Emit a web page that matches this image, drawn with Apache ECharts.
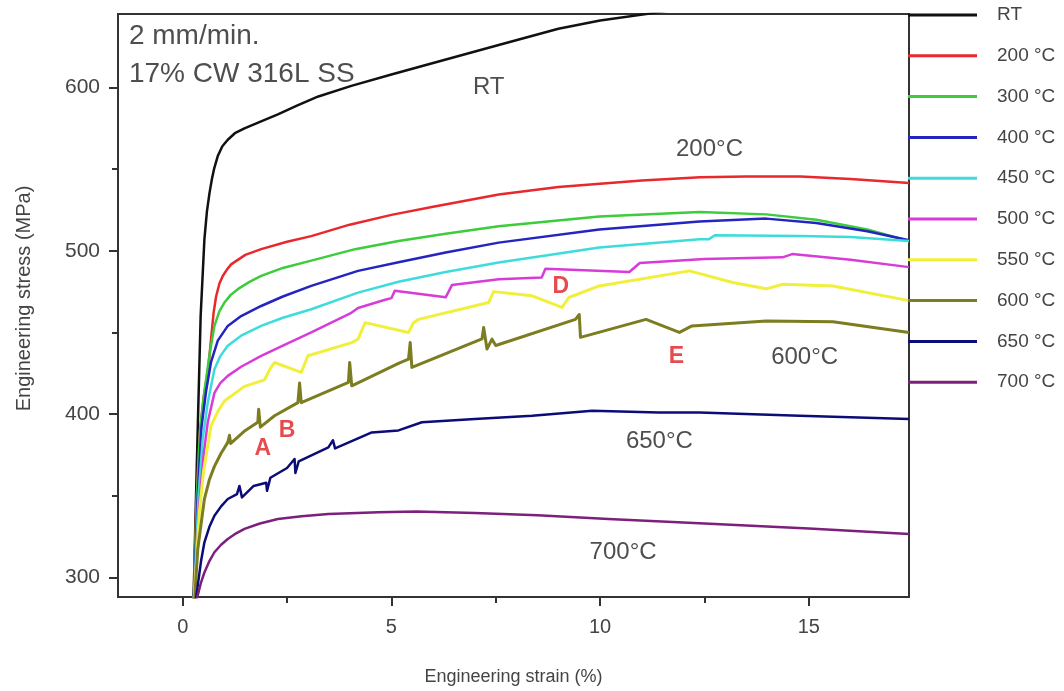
<!DOCTYPE html>
<html>
<head>
<meta charset="utf-8">
<script src="https://cdn.jsdelivr.net/npm/echarts@6/dist/echarts.min.js"></script>
<style>
html,body{margin:0;padding:0;background:#fff;}
#chart{width:1064px;height:691px;}
</style>
</head>
<body>
<div id="chart"></div>
<script>
// ---- data (strain %, stress MPa) ----
const seriesNames = ['RT','200 °C','300 °C','400 °C','450 °C','500 °C','550 °C','600 °C','650 °C','700 °C'];
const seriesColors = ['#111111','#e8282c','#3ccc3c','#2424c0','#3cdcdc','#d83cd8','#f0f03c','#7c7c20','#0c0c78','#7c207c'];

const rt = [[0.255,280],[0.30,330],[0.36,391],[0.43,460],[0.52,507],[0.58,524],[0.64,535],[0.70,544],[0.75,550],[0.84,558],[0.95,564],[1.08,568],[1.25,572],[1.48,575],[1.85,579],[2.28,583.5],[2.75,589],[3.25,594.5],[4.04,601],[5,608],[6,615],[7.57,626],[9,636],[10,641],[11.4,646],[12.5,651],[14,657],[17.4,669]];
const t200 = [[0.255,280],[0.32,340],[0.40,385],[0.5,410],[0.6,425],[0.68,446],[0.74,462],[0.8,472],[0.88,480],[0.96,484.6],[1.06,488.5],[1.16,491.7],[1.5,497.5],[1.88,501],[2.5,505.5],[3.08,509],[4,516],[5,522],[6,527],[7.57,534.5],[9,539],[10,541],[11,543],[12.4,545],[13.5,545.5],[14.8,545.5],[16,544],[17.4,541.5]];
const t300 = [[0.255,280],[0.34,350],[0.42,392],[0.52,414],[0.64,436],[0.76,454],[0.88,463],[1.0,468.3],[1.15,473],[1.32,476.5],[1.6,481],[1.88,484.6],[2.4,489.5],[3.08,494],[4.13,501],[5.17,506],[6.3,510.5],[7.57,515],[9.98,521],[12.38,523.7],[13.98,522.3],[15.18,519],[16.4,513],[17.4,506]];
const t400 = [[0.255,280],[0.36,350],[0.45,392],[0.56,414],[0.68,432],[0.84,445],[1.08,454],[1.4,460],[1.88,466.2],[2.4,472],[3.08,478.5],[4.2,487.7],[5.17,493],[6.3,499],[7.57,505],[9.98,513],[12.38,518],[13.98,519.7],[15.18,517],[16.4,512],[17.4,506.5]];
const t450 = [[0.26,280],[0.38,350],[0.48,385],[0.6,407],[0.76,427.5],[0.9,435.5],[1.08,441.8],[1.4,448],[1.88,454],[2.4,459],[3.08,464.2],[4.2,474.4],[5.17,481],[6.3,487],[7.57,492.8],[9.98,502],[12.38,507],[12.6,507],[12.75,509.5],[14.78,509],[16,508.5],[17.4,506]];
const t500 = [[0.26,280],[0.4,345],[0.5,375],[0.6,395],[0.76,413],[0.9,419],[1.08,423.4],[1.4,429],[1.88,435.7],[2.4,442],[3.08,450],[4.04,462],[4.2,465],[4.85,470],[5.0,471],[5.08,475.5],[6.3,471.5],[6.45,479],[7.57,482.6],[8.6,483.6],[8.69,489],[10.7,487],[10.95,492.5],[12.5,495],[14.37,496],[14.6,498],[16,494.5],[17.4,490]];
const t550 = [[0.26,280],[0.4,340],[0.5,365],[0.68,393],[0.85,402],[1.0,408],[1.48,417],[1.96,421],[2.1,428],[2.2,431.6],[2.84,425.5],[3.0,435.7],[4.05,443.8],[4.2,445.9],[4.37,456],[5.41,450],[5.53,456],[5.65,458],[7.33,468.3],[7.45,475],[8.37,472.4],[9.09,465.3],[9.25,471.4],[9.98,478.5],[12.14,487.7],[13.18,480.6],[13.98,476.7],[14.38,479.5],[15.58,478.5],[17.4,469.5]];
const t600 = [[0.27,280],[0.36,317],[0.52,348],[0.64,360],[0.76,368],[0.92,376],[1.08,382.7],[1.12,387],[1.15,382],[1.5,390],[1.8,395],[1.82,403],[1.86,392],[2.2,399],[2.76,407],[2.8,419],[2.84,407],[3.97,419.4],[4.0,431.6],[4.05,417.3],[5.17,431],[5.41,433.6],[5.45,443.8],[5.49,428.6],[7.17,446],[7.21,453],[7.29,439.8],[7.41,445.9],[7.5,442],[9.41,458],[9.5,461],[9.53,447],[11.1,458],[11.9,450],[12.2,454],[13.98,457],[15.58,456.5],[17.4,450]];
const t650 = [[0.28,280],[0.36,295],[0.44,310],[0.52,321.5],[0.64,331],[0.76,337.8],[0.92,343.5],[1.08,348],[1.3,351],[1.36,356],[1.42,349],[1.7,356],[2.0,358],[2.02,353],[2.1,361],[2.5,367],[2.68,372.5],[2.7,364],[2.78,371],[3.49,379.6],[3.6,384],[3.65,379],[4.53,388.8],[5.17,390],[5.73,395],[7,397],[8.37,399],[9.81,402],[11.4,401],[12.38,401],[14.78,399],[17.4,397]];
const t700 = [[0.29,280],[0.36,289],[0.44,297],[0.52,303],[0.64,310],[0.76,315.4],[0.92,320],[1.08,323.5],[1.28,327],[1.48,329.7],[1.85,333],[2.28,335.8],[2.85,337.5],[3.49,338.8],[4.69,339.9],[5.6,340.3],[7,339.5],[8.5,338],[10.2,335.8],[12.5,333],[15,330],[17.4,326.6]];
const curves = [rt,t200,t300,t400,t450,t500,t550,t600,t650,t700];

// annotations [strain, stress, text]
const curveLabels = [[7.33,600,'RT'],[12.62,562,'200°C'],[14.9,435,'600°C'],[11.42,383.5,'650°C'],[10.55,315.6,'700°C']];
const letterLabels = [[1.92,378.6,'A'],[2.5,389.6,'B'],[9.06,478.3,'D'],[11.83,435,'E']];
const noteLines = [[-1.42,631.5,'2 mm/min.'],[-1.42,608,'17% CW 316L SS']];

const xLabelTicks = [0,5,10,15];
const xMinorTicks = [2.5,7.5,12.5];
const yLabelTicks = [300,400,500,600];
const yMinorTicks = [350,450,550];

const FONT = '"Liberation Sans", Arial, sans-serif';
const chart = echarts.init(document.getElementById('chart'));
const widths = [2.5,2.5,2.5,2.5,2.5,2.5,3,3,2.5,2.5];

const series = curves.map((d,i)=>({
  name: seriesNames[i], type:'line', data:d, showSymbol:false, symbol:'none',
  lineStyle:{color:seriesColors[i], width:widths[i], join:'round'}, itemStyle:{color:seriesColors[i]},
  clip:true, z:2
}));
function textSeries(arr, style, pos){
  return {type:'scatter', data:arr.map(a=>({value:[a[0],a[1]], label:{formatter:a[2]}})),
    symbolSize:1, itemStyle:{color:'rgba(0,0,0,0)'}, silent:true, z:5, clip:false,
    label:Object.assign({show:true, position:pos||'inside', fontFamily:FONT}, style)};
}
series.push(textSeries(curveLabels,{fontSize:24,color:'#222'}));
series.push(textSeries(letterLabels,{fontSize:23,color:'#e01e22',fontWeight:'bold'}));
series.push(textSeries(noteLines,{fontSize:28,color:'#222',align:'left',verticalAlign:'middle'},'right'));

chart.setOption({
  animation:false,
  backgroundColor:'#fff',
  grid:{left:118,right:155,top:14,bottom:93,show:true,borderColor:'#333',borderWidth:2,backgroundColor:'transparent'},
  legend:{
    data:seriesNames, orient:'vertical', left:908, top:1.5, padding:0,
    icon:'rect', itemWidth:69, itemHeight:3, itemGap:13.8,
    textStyle:{fontSize:19, color:'#444', fontFamily:FONT, lineHeight:17, padding:[10,0,0,15]}
  },
  xAxis:[{
    type:'value', min:-1.55, max:17.4, position:'bottom',
    axisLine:{show:false,onZero:false}, splitLine:{show:false},
    axisTick:{show:true, customValues:xLabelTicks, length:9, lineStyle:{color:'#333',width:2}},
    axisLabel:{customValues:xLabelTicks, fontSize:20, color:'#444', margin:20, fontFamily:FONT},
    name:'Engineering strain (%)', nameLocation:'middle', nameGap:71,
    nameTextStyle:{fontSize:18,color:'#444',fontFamily:FONT}
  },{
    type:'value', min:-1.55, max:17.4, position:'bottom',
    axisLine:{show:false,onZero:false}, splitLine:{show:false},
    axisTick:{show:true, customValues:xMinorTicks, length:6, lineStyle:{color:'#333',width:2}},
    axisLabel:{show:false}
  }],
  yAxis:[{
    type:'value', min:288, max:645, position:'left',
    axisLine:{show:false,onZero:false}, splitLine:{show:false},
    axisTick:{show:true, customValues:yLabelTicks, length:9, lineStyle:{color:'#333',width:2}},
    axisLabel:{customValues:yLabelTicks, fontSize:21, color:'#444', margin:18, fontFamily:FONT},
    name:'Engineering stress (MPa)', nameLocation:'middle', nameGap:84, nameRotate:90,
    nameTextStyle:{fontSize:20,color:'#444',fontFamily:FONT,padding:[0,0,0,14]}
  },{
    type:'value', min:288, max:645, position:'left',
    axisLine:{show:false,onZero:false}, splitLine:{show:false},
    axisTick:{show:true, customValues:yMinorTicks, length:6, lineStyle:{color:'#333',width:2}},
    axisLabel:{show:false}
  }],
  series:series
});
</script>
</body>
</html>
